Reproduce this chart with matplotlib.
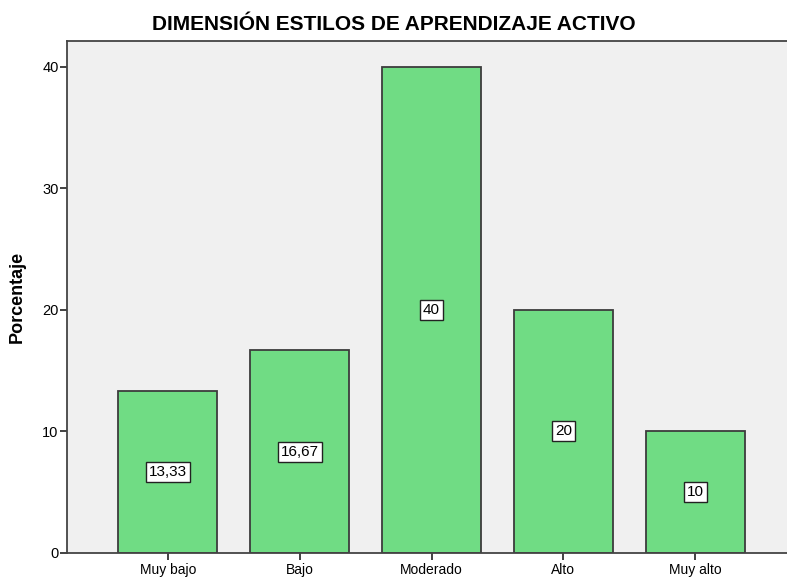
import matplotlib
matplotlib.use('Agg')
import matplotlib.pyplot as plt

categorias = ['Muy bajo', 'Bajo', 'Moderado', 'Alto', 'Muy alto']
porcentajes = [13.33, 16.67, 40, 20, 10]
etiquetas = ['13,33', '16,67', '40', '20', '10']
yticks = [0, 10, 20, 30, 40]

plt.rcParams['font.family'] = ['Liberation Sans', 'DejaVu Sans']

fig = plt.figure(figsize=(7.87, 5.77), dpi=100)
ax = fig.add_axes([67/787, 24/577, 729/787, 512/577])
ax.set_facecolor('#f0f0f0')

x = list(range(len(categorias)))
ax.bar(x, porcentajes, width=0.75, color='#70dc84', edgecolor='#3c3c3c', linewidth=1.3, zorder=2)

# etiquetas en el centro de cada barra
for xi, v, t in zip(x, porcentajes, etiquetas):
	ax.text(xi, v / 2, t, ha='center', va='center', fontsize=11, color='black', zorder=3,
		bbox=dict(boxstyle='square,pad=0.2', facecolor='white', edgecolor='#222222', linewidth=1))

ax.set_xlim(-0.765, 4.765)
ax.set_ylim(0, 42.1)
ax.set_xticks(x)
ax.set_xticklabels(categorias, fontsize=10)
ax.set_yticks(yticks)
ax.set_yticklabels([str(t) for t in yticks], fontsize=10.5)
ax.tick_params(axis='both', length=5, width=1.3, color='#333333', pad=1)
ax.tick_params(axis='x', pad=2)

for s in ax.spines.values():
	s.set_color('#444444')
	s.set_linewidth(1.3)

ax.set_ylabel('Porcentaje', fontsize=13, fontweight='bold', labelpad=12)
fig.text(0.5, 0.957, 'DIMENSIÓN ESTILOS DE APRENDIZAJE ACTIVO', ha='center', va='center',
	fontsize=15, fontweight='bold')

fig.savefig('out.png', dpi=100)
